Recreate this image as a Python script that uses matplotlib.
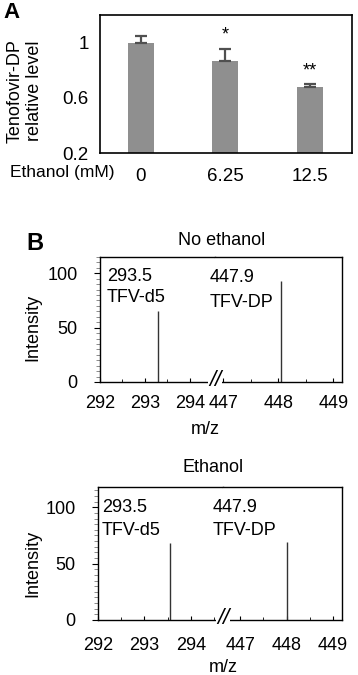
import matplotlib
matplotlib.use("Agg")
import matplotlib.pyplot as plt
from matplotlib.ticker import MultipleLocator

plt.rcParams["font.family"] = ["Liberation Sans", "DejaVu Sans"]
plt.rcParams["font.size"] = 13

# ---- data ----
conc_labels = ["0", "6.25", "12.5"]
rel_level = [1.0, 0.867, 0.68]
rel_err = [0.05, 0.09, 0.02]
sig_marks = ["", "*", "**"]

noeth_d5_mz = [293.3]
noeth_d5_int = [65]
noeth_dp_mz = [448.05]
noeth_dp_int = [93]

eth_d5_mz = [293.55]
eth_d5_int = [68]
eth_dp_mz = [448.0]
eth_dp_int = [69]

peak_labels = ["293.5\nTFV-d5", "447.9\nTFV-DP"]

W, H = 358, 675
fig = plt.figure(figsize=(W / 100, H / 100), dpi=100)


def box(x0, y0, x1, y1):
    # pixel box (top-left origin) -> figure fraction rect
    return [x0 / W, 1 - y1 / H, (x1 - x0) / W, (y1 - y0) / H]


def px(x, y):
    return x / W, 1 - y / H


# ==============================================================================
# Panel A
# ==============================================================================
axA = fig.add_axes(box(100, 15, 352, 153))
xs = range(len(rel_level))
axA.bar(xs, rel_level, width=0.31, color="#8f8f8f",
        yerr=[[0] * len(rel_err), rel_err], capsize=4,
        error_kw=dict(ecolor="#505050", elinewidth=1.6, capthick=1.6))
for x, v, e, s in zip(xs, rel_level, rel_err, sig_marks):
    if s:
        axA.text(x, v + e + 0.035, s, ha="center", va="bottom", fontsize=13)
axA.set_xlim(-0.485, 2.5)
axA.set_ylim(0.2, 1.2)
axA.set_yticks([0.2, 0.6, 1.0])
axA.set_yticklabels(["0.2", "0.6", "1"])
axA.set_xticks(list(xs))
axA.set_xticklabels(conc_labels)
axA.tick_params(axis="both", length=0, labelsize=13.5)
axA.tick_params(axis="y", pad=8)
axA.tick_params(axis="x", pad=11)
for sp in axA.spines.values():
    sp.set_linewidth(1.2)

fig.text(*px(10, 173), "Ethanol (mM)", ha="left", va="center", fontsize=12.5)
fig.text(*px(25, 91), "Tenofovir-DP\nrelative level", rotation=90,
         ha="center", va="center", multialignment="center", fontsize=13,
         linespacing=1.15)
fig.text(*px(3, 13), "A", fontsize=16, fontweight="bold", ha="left", va="center")
fig.text(*px(26, 243), "B", fontsize=17, fontweight="bold", ha="left", va="center")


# ==============================================================================
# Panel B
# ==============================================================================
def spectrum(left_box, right_box, xl, xr, ymax, d5_mz, d5_int, dp_mz, dp_int, xpad):
    axl = fig.add_axes(box(*left_box))
    axr = fig.add_axes(box(*right_box))
    axl.vlines(d5_mz, 0, d5_int, color="#333333", lw=1)
    axr.vlines(dp_mz, 0, dp_int, color="#333333", lw=1)
    axl.set_xlim(*xl)
    axr.set_xlim(*xr)
    for ax in (axl, axr):
        ax.set_ylim(0, ymax)
        ax.xaxis.set_major_locator(MultipleLocator(1))
        ax.xaxis.set_minor_locator(MultipleLocator(0.5))
        ax.tick_params(axis="x", which="major", direction="in", length=3, pad=xpad, labelsize=13)
        ax.tick_params(axis="x", which="minor", direction="in", length=2)
        for sp in ax.spines.values():
            sp.set_linewidth(1)
    axl.spines["right"].set_visible(False)
    axr.spines["left"].set_visible(False)
    axl.set_yticks([0, 50, 100])
    axl.yaxis.set_minor_locator(MultipleLocator(5))
    axl.tick_params(axis="y", which="major", direction="out", length=4, pad=12, labelsize=13)
    axl.tick_params(axis="y", which="minor", direction="out", length=3, width=0.6, color="#777777")
    axr.tick_params(axis="y", which="both", left=False, labelleft=False)
    return axl, axr


spectrum((100, 257, 215, 382), (215, 257, 342, 382), (292, 294.56), (446.85, 449.16), 115,
         noeth_d5_mz, noeth_d5_int, noeth_dp_mz, noeth_dp_int, 9)
spectrum((98, 487, 223, 620), (223, 487, 342, 620), (292, 294.69), (446.63, 449.19), 118,
         eth_d5_mz, eth_d5_int, eth_dp_mz, eth_dp_int, 12)

brk = dict(ha="center", va="center", fontsize=16, style="italic",
           bbox=dict(fc="white", ec="none", pad=0.3))
fig.text(*px(215, 381), "//", **brk)
fig.text(*px(223, 618), "//", **brk)

fig.text(*px(222, 240), "No ethanol", ha="center", va="center", fontsize=13)
fig.text(*px(213, 468), "Ethanol", ha="center", va="center", fontsize=13)
fig.text(*px(205, 430), "m/z", ha="center", va="center", fontsize=13)
fig.text(*px(223, 668), "m/z", ha="center", va="center", fontsize=13)
fig.text(*px(33, 327), "Intensity", rotation=90, ha="center", va="center", fontsize=13)
fig.text(*px(33, 563), "Intensity", rotation=90, ha="center", va="center", fontsize=13)

label_xy = [(107, 287), (210, 290), (102, 519), (213, 519)]
label_ls = [1.35, 1.55, 1.4, 1.4]
for (x, y), t, ls in zip(label_xy, peak_labels * 2, label_ls):
    fig.text(*px(x, y), t, ha="left", va="center", fontsize=13, linespacing=ls)

fig.savefig("out.png", dpi=100)
